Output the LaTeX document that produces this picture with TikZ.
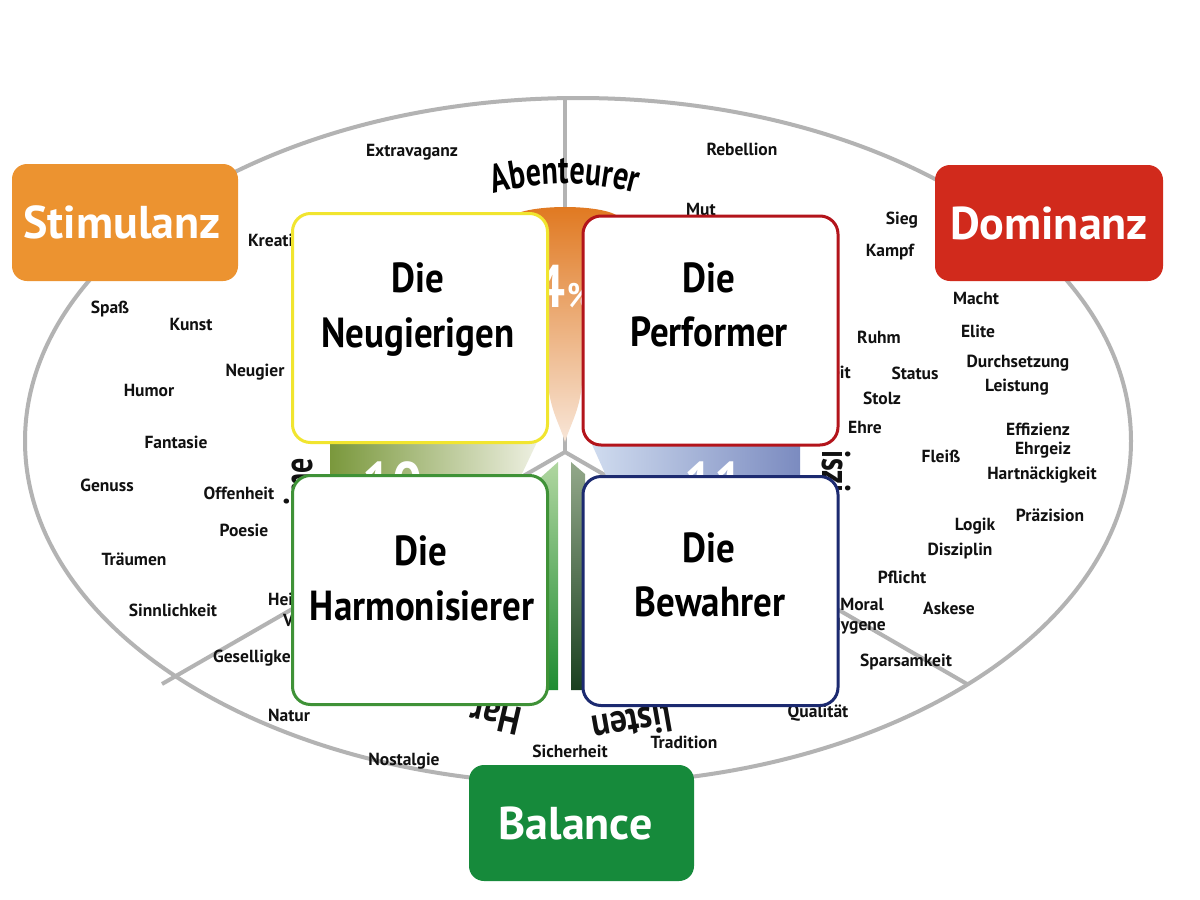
\documentclass[tikz,border=0pt]{standalone}
\usepackage{fontspec}
\setmainfont{PT Sans}
\newfontfamily\ringfont[FakeStretch=0.75]{PT Sans}
\newfontfamily\ringfontb[FakeStretch=0.85]{PT Sans}
\newfontfamily\qfont[FakeStretch=0.88]{PT Sans}
\usetikzlibrary{decorations.text}
\definecolor{linec}{HTML}{B3B3B3}
\definecolor{stimc}{HTML}{EC9330}
\definecolor{domc}{HTML}{D12A1C}
\definecolor{balc}{HTML}{168A3B}
\definecolor{ycol}{HTML}{F1E52F}
\definecolor{rcol}{HTML}{B3141B}
\definecolor{gcol}{HTML}{3F9237}
\definecolor{ncol}{HTML}{1C2A70}
\definecolor{orT}{HTML}{E0781F}
\definecolor{orM}{HTML}{EDA06A}
\definecolor{orB}{HTML}{F8E6D8}
\definecolor{olL}{HTML}{7A983C}
\definecolor{olM}{HTML}{B5C48E}
\definecolor{olR}{HTML}{EEF0E2}
\definecolor{blL}{HTML}{D0DCEF}
\definecolor{blR}{HTML}{7B8BC0}
\definecolor{vgT}{HTML}{B0D6A0}
\definecolor{vgB}{HTML}{1E8C32}
\definecolor{dgT}{HTML}{93A88A}
\definecolor{dgB}{HTML}{1A4020}
\definecolor{wordc}{HTML}{111111}
\begin{document}
\begin{tikzpicture}[x=1pt,y=-1pt,
  word/.style={font=\bfseries\fontsize{17.5}{20}\selectfont, inner sep=0pt, text=wordc, anchor=base},
  wordw/.style={word, anchor=base west},
  worde/.style={word, anchor=base east},
  corner/.style={rounded corners=15pt, text=white, font=\bfseries\fontsize{46}{50}\selectfont, minimum width=226pt, minimum height=117pt, inner sep=0pt},
  quad/.style={draw, line width=3pt, rounded corners=18pt, fill=white, minimum width=255pt, minimum height=229pt, inner sep=0pt},
  qlabel/.style={font=\qfont\bfseries\fontsize{42}{50}\selectfont, anchor=base, inner sep=0pt},
  ring/.style={font=\ringfont\bfseries\fontsize{40}{40}\selectfont, inner sep=0pt, text=wordc},
  ringb/.style={font=\ringfontb\bfseries\fontsize{40}{40}\selectfont, inner sep=0pt, text=wordc},
  num/.style={font=\qfont\bfseries\fontsize{60}{60}\selectfont, inner sep=0pt, text=white, anchor=base west},
  grayline/.style={draw=linec, line width=4pt}
]
\useasboundingbox (0,0) rectangle (1200,900);
\fill[white] (0,0) rectangle (1200,900);

% outer ellipse and dividers
\draw[grayline] (578,441) ellipse [x radius=553, y radius=343];
\coordinate (hub) at (565,452);
\coordinate (etop) at (565,98);
\coordinate (ebl) at (162,684);
\coordinate (ebr) at (967,684);
\draw[grayline] (hub) -- (etop);
\draw[grayline] (hub) -- (ebl);
\draw[grayline] (hub) -- (ebr);

% shaded background shapes
\shade[top color=orT, middle color=orM, bottom color=orB]
  (512,216) .. controls (530,204) and (600,204) .. (618,216)
  .. controls (590,240) and (585,300) .. (582,383)
  .. controls (580,410) and (570,425) .. (565,442)
  .. controls (560,425) and (550,410) .. (548,383)
  .. controls (545,300) and (540,240) .. (512,216) -- cycle;
\shade[left color=olL, middle color=olM, right color=olR]
  (330,440) -- (538,440) -- (519,480) -- (330,480) -- cycle;
\shade[left color=blL, right color=blR]
  (590,440) -- (800,440) -- (800,480) -- (608,480) -- cycle;
\shade[top color=vgT, bottom color=vgB]
  (538,480) -- (558,462) -- (558,690) -- (538,690) -- cycle;
\shade[top color=dgT, bottom color=dgB]
  (571,462) -- (585,474) -- (585,690) -- (571,690) -- cycle;

% numbers
\node[num, anchor=base east] (p4) at (566,307) {4};
\node[font=\qfont\bfseries\fontsize{34}{34}\selectfont, text=white, inner sep=0pt, anchor=base west] (pc) at (567,307) {\%};
\node[num] (n10) at (362,504) {10};
\node[num] (n11) at (684,504) {11};

% ring texts
\path[decorate, decoration={text along path, text align=center,
  text={|\ringfont\bfseries\fontsize{40}{40}\selectfont|Abenteurer}}]
  (491.1,194.4) .. controls (539.3,180.5) and (590.7,180.5) .. (638.9,194.4);
\node[ringb, rotate=167, anchor=base west] (rh) at (524,709) {Har};
\node[ringb, rotate=190, anchor=base west] (rl) at (670,703) {listen};
\node[ring, rotate=90, anchor=base east] (re) at (312,458) {ime};
\node[ring, rotate=-90, anchor=base west] (rz) at (822,450) {iszi};

% words
\node[word] (w1) at (412,156) {Extravaganz};
\node[word] (w2) at (742,155) {Rebellion};
\node[word] (w3) at (701,215) {Mut};
\node[word] (w4) at (902,224) {Sieg};
\node[word] (w5) at (890,256) {Kampf};
\node[word] (w6) at (976,304) {Macht};
\node[word] (w7) at (978,337) {Elite};
\node[word] (w8) at (879,343) {Ruhm};
\node[word] (w9) at (1018,367) {Durchsetzung};
\node[word] (w10) at (915,379) {Status};
\node[word] (w11) at (1017,391) {Leistung};
\node[word] (w12) at (882,404) {Stolz};
\node[word] (w13) at (865,433) {Ehre};
\node[word] (w14) at (1038,435) {Effizienz};
\node[word] (w15) at (1043,454) {Ehrgeiz};
\node[word] (w16) at (941,462) {Fleiß};
\node[word] (w17) at (1042,479) {Hartnäckigkeit};
\node[word] (w18) at (1050,521) {Präzision};
\node[word] (w19) at (975,530) {Logik};
\node[word] (w20) at (960,555) {Disziplin};
\node[word] (w21) at (902,583) {Pflicht};
\node[word] (w22) at (862,610) {Moral};
\node[word] (w23) at (949,614) {Askese};
\node[word] (w24) at (906,666) {Sparsamkeit};
\node[word] (w25) at (818,717) {Qualität};
\node[word] (w26) at (684,748) {Tradition};
\node[word] (w27) at (570,757) {Sicherheit};
\node[word] (w28) at (404,765) {Nostalgie};
\node[word] (w29) at (289,721) {Natur};
\node[word] (w30) at (173,616) {Sinnlichkeit};
\node[word] (w31) at (134,565) {Träumen};
\node[word] (w32) at (244,536) {Poesie};
\node[word] (w33) at (107,491) {Genuss};
\node[word] (w34) at (239,499) {Offenheit};
\node[word] (w35) at (176,448) {Fantasie};
\node[word] (w36) at (149,396) {Humor};
\node[word] (w37) at (255,376) {Neugier};
\node[word] (w38) at (110,313) {Spaß};
\node[word] (w39) at (191,330) {Kunst};
\node[wordw] (w40) at (248,246) {Kreativität};
\node[wordw] (w41) at (268,605) {Heim};
\node[wordw] (w42) at (283,626) {Vertrauen};
\node[wordw] (w43) at (213,662) {Geselligkeit};
\node[worde] (w44) at (851,378) {Freiheit};
\node[worde] (w45) at (886,630) {Hygene};

% quadrant boxes
\node[quad, draw=ycol] (qneu) at (420,328) {};
\node[quad, draw=rcol] (qper) at (710.5,330.5) {};
\node[quad, draw=gcol] (qhar) at (420,590) {};
\node[quad, draw=ncol] (qbew) at (710.5,591) {};
\node[qlabel] (l1a) at (418,292) {Die};
\node[qlabel] (l1b) at (418,347) {Neugierigen};
\node[qlabel] (l2a) at (709,292) {Die};
\node[qlabel] (l2b) at (709,346) {Performer};
\node[qlabel] (l3a) at (421,565) {Die};
\node[qlabel] (l3b) at (422,620) {Harmonisierer};
\node[qlabel] (l4a) at (709,562) {Die};
\node[qlabel] (l4b) at (710,616) {Bewahrer};

% corner boxes
\node[corner, fill=stimc] (stim) at (125,222.5) {\hspace*{-6pt}Stimulanz};
\node[corner, fill=domc, minimum width=228pt, minimum height=116pt] (dom) at (1049,223) {Dominanz};
\node[corner, fill=balc, minimum width=225pt, minimum height=116pt] (bal) at (581.5,823) {\hspace*{-12pt}Balance};
\end{tikzpicture}
\end{document}
